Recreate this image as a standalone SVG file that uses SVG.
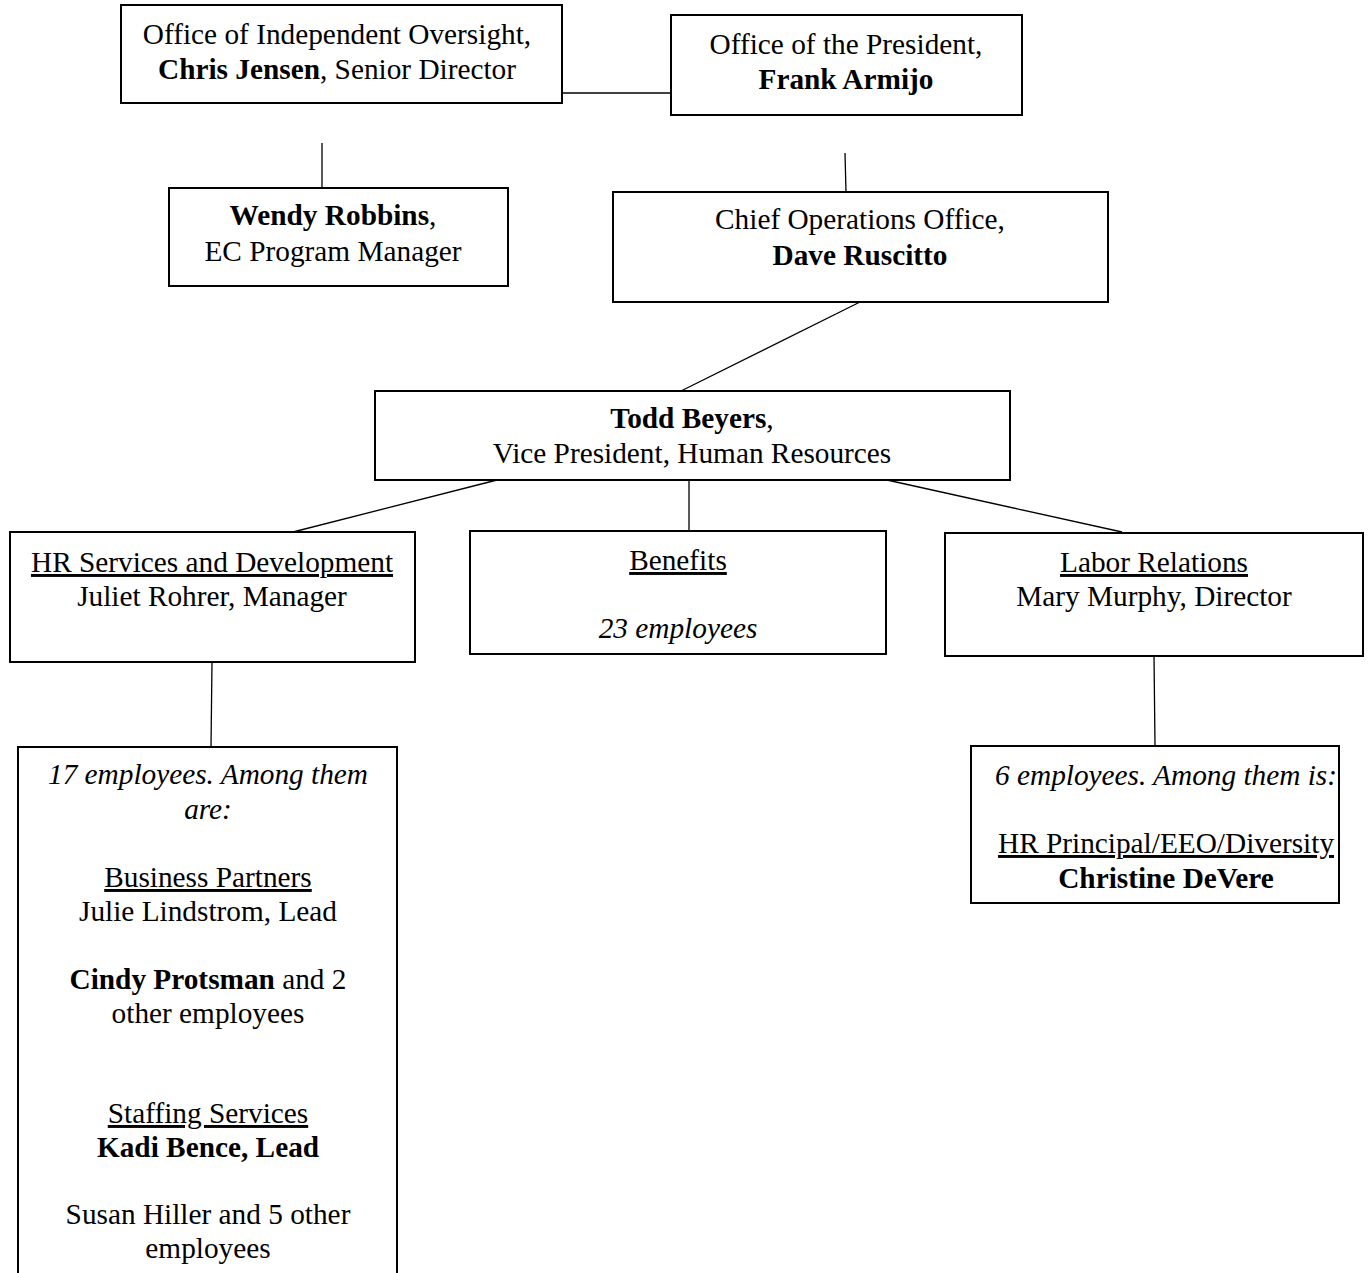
<svg xmlns="http://www.w3.org/2000/svg" width="1371" height="1273" viewBox="0 0 1371 1273">
<style>
.box{fill:#fff;stroke:#000;stroke-width:2}
.ln{stroke:#000;stroke-width:1.3;fill:none}
text{font-family:"Liberation Serif","Times New Roman",serif;font-size:29.3px;fill:#000;text-anchor:middle}
.b{font-weight:bold}
.i{font-style:italic}
.u{text-decoration:underline}
</style>
<rect width="1371" height="1273" fill="#fff"/>
<g id="connectors">
<line class="ln" x1="562" y1="93" x2="671" y2="93"/>
<line class="ln" x1="322" y1="143" x2="322" y2="188"/>
<line class="ln" x1="845" y1="153" x2="846" y2="192"/>
<line class="ln" x1="860" y1="302" x2="681" y2="391"/>
<line class="ln" x1="497" y1="480" x2="293" y2="532"/>
<line class="ln" x1="689" y1="480" x2="689" y2="531"/>
<line class="ln" x1="887" y1="480" x2="1122" y2="532"/>
<line class="ln" x1="212" y1="662" x2="211" y2="747"/>
<line class="ln" x1="1154" y1="655" x2="1155" y2="746"/>
</g>
<g id="oversight">
<rect class="box" x="121" y="5" width="441" height="98"/>
<text x="337" y="44">Office of Independent Oversight,</text>
<text x="337" y="79"><tspan class="b">Chris Jensen</tspan>, Senior Director</text>
</g>
<g id="president">
<rect class="box" x="671" y="15" width="351" height="100"/>
<text x="846" y="54">Office of the President,</text>
<text x="846" y="89" class="b">Frank Armijo</text>
</g>
<g id="wendy">
<rect class="box" x="169" y="188" width="339" height="98"/>
<text x="333" y="225"><tspan class="b">Wendy Robbins</tspan>,</text>
<text x="333" y="261">EC Program Manager</text>
</g>
<g id="coo">
<rect class="box" x="613" y="192" width="495" height="110"/>
<text x="860" y="229">Chief Operations Office,</text>
<text x="860" y="265" class="b">Dave Ruscitto</text>
</g>
<g id="vp">
<rect class="box" x="375" y="391" width="635" height="89"/>
<text x="692" y="428"><tspan class="b">Todd Beyers</tspan>,</text>
<text x="692" y="463">Vice President, Human Resources</text>
</g>
<g id="hrservices">
<rect class="box" x="10" y="532" width="405" height="130"/>
<text x="212" y="572" class="u">HR Services and Development</text>
<text x="212" y="606">Juliet Rohrer, Manager</text>
</g>
<g id="benefits">
<rect class="box" x="470" y="531" width="416" height="123"/>
<text x="678" y="570" class="u">Benefits</text>
<text x="678" y="638" class="i">23 employees</text>
</g>
<g id="labor">
<rect class="box" x="945" y="533" width="418" height="123"/>
<text x="1154" y="572" class="u">Labor Relations</text>
<text x="1154" y="606">Mary Murphy, Director</text>
</g>
<g id="hrstaff">
<path class="box" d="M18 1280 V747 H397 V1280"/>
<text x="208" y="784" class="i">17 employees. Among them</text>
<text x="208" y="819" class="i">are:</text>
<text x="208" y="887" class="u">Business Partners</text>
<text x="208" y="921">Julie Lindstrom, Lead</text>
<text x="208" y="989"><tspan class="b">Cindy Protsman</tspan> and 2</text>
<text x="208" y="1023">other employees</text>
<text x="208" y="1123" class="u">Staffing Services</text>
<text x="208" y="1157" class="b">Kadi Bence, Lead</text>
<text x="208" y="1224">Susan Hiller and 5 other</text>
<text x="208" y="1258">employees</text>
</g>
<g id="laborstaff">
<rect class="box" x="971" y="746" width="368" height="157"/>
<text x="1166" y="785" class="i">6 employees. Among them is:</text>
<text x="1166" y="853" class="u">HR Principal/EEO/Diversity</text>
<text x="1166" y="888" class="b">Christine DeVere</text>
</g>
</svg>
